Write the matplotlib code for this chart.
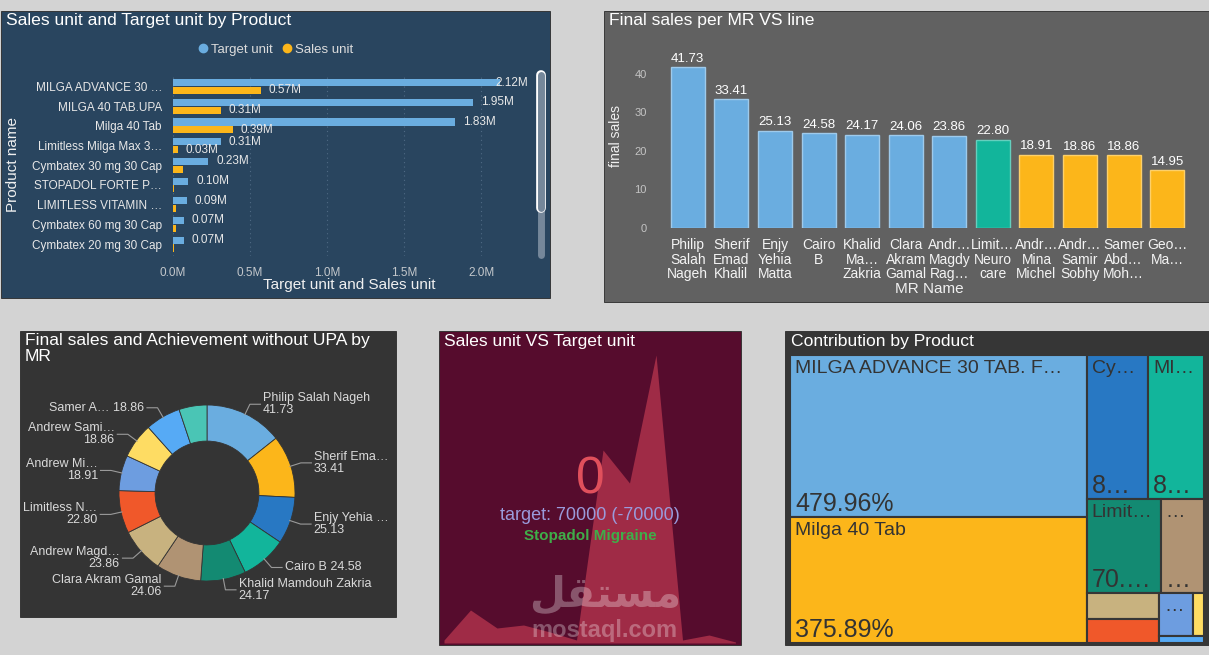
import numpy as np
import matplotlib.pyplot as plt
from matplotlib.patches import Rectangle
from matplotlib.lines import Line2D
from matplotlib.ticker import FuncFormatter
from matplotlib.colors import to_rgb

plt.rcParams['font.family'] = ['Liberation Sans', 'DejaVu Sans']

# ---- data ----
products = ['MILGA ADVANCE 30 …', 'MILGA 40 TAB.UPA', 'Milga 40 Tab', 'Limitless Milga Max 3…',
            'Cymbatex 30 mg 30 Cap', 'STOPADOL FORTE P…', 'LIMITLESS VITAMIN …',
            'Cymbatex 60 mg 30 Cap', 'Cymbatex 20 mg 30 Cap']
target_units = [2.12e6, 1.95e6, 1.83e6, 0.31e6, 0.23e6, 0.10e6, 0.09e6, 0.07e6, 0.07e6]
sales_units = [0.57e6, 0.31e6, 0.39e6, 0.03e6, 0.063e6, 0.005e6, 0.022e6, 0.022e6, 0.005e6]

mr_ticks = ['Philip\nSalah\nNageh', 'Sherif\nEmad\nKhalil', 'Enjy\nYehia\nMatta', 'Cairo\nB',
            'Khalid\nMa…\nZakria', 'Clara\nAkram\nGamal', 'Andr…\nMagdy\nRag…', 'Limit…\nNeuro\ncare',
            'Andr…\nMina\nMichel', 'Andr…\nSamir\nSobhy', 'Samer\nAbd…\nMoh…', 'Geo…\nMa…']
mr_donut = ['Philip Salah Nageh', 'Sherif Ema…', 'Enjy Yehia …', 'Cairo B', 'Khalid Mamdouh Zakria',
            'Clara Akram Gamal', 'Andrew Magd…', 'Limitless N…', 'Andrew Mi…', 'Andrew Sami…',
            'Samer A…', None]
final_sales = [41.73, 33.41, 25.13, 24.58, 24.17, 24.06, 23.86, 22.80, 18.91, 18.86, 18.86, 14.95]
mr_line = ['Milga'] * 7 + ['Limitless'] + ['Cymbatex'] * 4

trend = [3, 33, 15, 18, 11, 3, 193, 160, 288, 3, 8, 1]

tm_names = ['MILGA ADVANCE 30 TAB. FORTE', 'Milga 40 Tab', 'Cymbatex 30 mg 30 Cap', 'MILGA 40 TAB.UPA',
            'Limitless Milga Max 30', 'STOPADOL FORTE P…', 'LIMITLESS VITAMIN …', 'Cymbatex 60 mg 30 Cap',
            'Cymbatex 20 mg 30 Cap', 'Stopadol Migraine', 'Limitless Neuro']
tm_values = [479.96, 375.89, 88.4, 80.6, 70.3, 41.2, 19.0, 17.3, 14.1, 4.9, 3.2]

palette = ['#6aade0', '#fcb61a', '#2878c3', '#12b59b', '#138a72', '#b09373', '#c8b27f',
           '#f0582a', '#6d9de0', '#fedc63', '#56aaf5', '#4ac5b5']
BLUE, AMBER = palette[0], palette[1]
line_colors = {'Milga': BLUE, 'Limitless': '#12b59b', 'Cymbatex': AMBER}
TITLE = 12.6

W, H = 1209, 655
fig = plt.figure(figsize=(W / 100, H / 100), dpi=100, facecolor='#d3d3d3')


def fbox(x0, y0, x1, y1):
    return [x0 / W, 1 - y1 / H, (x1 - x0) / W, (y1 - y0) / H]


def panel(x0, y0, x1, y1, color):
    fig.add_artist(Rectangle((x0 / W, 1 - y1 / H), (x1 - x0) / W, (y1 - y0) / H,
                             transform=fig.transFigure, facecolor=color, edgecolor='#2a2a2a',
                             lw=0.6, zorder=-1))


def ftext(x, y, s, **kw):
    return fig.text(x / W, 1 - y / H, s, **kw)


def lighten(c, f=0.35):
    r = np.array(to_rgb(c))
    return tuple(r + (1 - r) * f)


panel(1, 11, 550, 298, '#29455f')
panel(604, 11, 1210, 302, '#616161')
panel(20, 331, 396, 617, '#343434')
panel(439, 331, 741, 645, '#560c2d')
panel(785, 331, 1210, 645, '#363636')

# ---- panel 1: horizontal bars ----
ax1 = fig.add_axes(fbox(173, 74.7, 535, 255.9))
ax1.set_facecolor('none')
y = np.arange(len(products))
ax1.barh(y - 0.2, target_units, height=0.36, color=BLUE)
ax1.barh(y + 0.2, sales_units, height=0.36, color=AMBER)
xmax = 2.35e6
ax1.set_xlim(0, xmax)
ax1.set_ylim(len(products) - 0.4, -0.6)
ax1.set_yticks(y)
ax1.set_yticklabels(products)
ax1.set_xticks([0, 0.5e6, 1e6, 1.5e6, 2e6])
ax1.xaxis.set_major_formatter(FuncFormatter(lambda v, p: f'{v / 1e6:.1f}M'))
ax1.xaxis.grid(True, color='#4f6a84', linestyle=(0, (1, 3)), lw=0.8)
ax1.set_axisbelow(True)
for s in ax1.spines.values():
    s.set_visible(False)
ax1.tick_params(axis='y', length=0, pad=8, labelsize=8.5, labelcolor='#e8e8e8')
ax1.tick_params(axis='x', length=0, pad=8, labelsize=8.5, labelcolor='#c4c8cc')
lw_m = 0.26e6
for i, (t, s) in enumerate(zip(target_units, sales_units)):
    ax1.text(min(t + 0.05e6, xmax - lw_m), i - 0.2, f'{t / 1e6:.2f}M', va='center',
             fontsize=8.5, color='#e8e8e8')
    if s + 0.22e6 < t:
        ax1.text(s + 0.05e6, i + 0.2, f'{s / 1e6:.2f}M', va='center', fontsize=8.5, color='#e8e8e8')
ftext(6, 21, 'Sales unit and Target unit by Product', fontsize=TITLE, color='white', va='center')
ftext(13, 165, 'Product name', rotation=90, fontsize=11, color='#f0f0f0', va='center', ha='center')
ftext(349, 285, 'Target unit and Sales unit', fontsize=11, color='#f0f0f0', va='center', ha='center')
handles = [Line2D([], [], marker='o', ls='', color=BLUE, markersize=6),
           Line2D([], [], marker='o', ls='', color=AMBER, markersize=6)]
fig.legend(handles, ['Target unit', 'Sales unit'], loc='center', bbox_to_anchor=(275 / W, 1 - 50 / H),
           ncol=2, frameon=False, handletextpad=0.1, columnspacing=0.6, fontsize=9.5,
           labelcolor='#dcdcdc', handlelength=1)
fig.add_artist(Line2D([541 / W] * 2, [1 - 76 / H, 1 - 255 / H], lw=5, color='#75879a',
                      solid_capstyle='round', transform=fig.transFigure))
fig.add_artist(Line2D([541 / W] * 2, [1 - 75 / H, 1 - 208 / H], lw=7, color='white',
                      solid_capstyle='round', transform=fig.transFigure))
fig.add_artist(Line2D([541 / W] * 2, [1 - 75 / H, 1 - 208 / H], lw=5, color='#75879a',
                      solid_capstyle='round', transform=fig.transFigure))

# ---- panel 2: columns ----
ax2 = fig.add_axes(fbox(666, 54.7, 1189, 228))
ax2.set_facecolor('none')
x = np.arange(len(final_sales))
cols = [line_colors[l] for l in mr_line]
ax2.bar(x, final_sales, width=0.78, color=cols, edgecolor=[lighten(c) for c in cols], lw=1)
ax2.set_xlim(-0.5, len(x) - 0.5)
ax2.set_ylim(0, 45)
ax2.set_yticks([0, 10, 20, 30, 40])
ax2.set_xticks(x)
ax2.set_xticklabels(mr_ticks, linespacing=1.08)
for s in ax2.spines.values():
    s.set_visible(False)
ax2.tick_params(axis='y', length=0, pad=14, labelsize=8, labelcolor='#c4c4c4')
ax2.tick_params(axis='x', length=0, pad=7, labelsize=10, labelcolor='#f4f4f4')
for i, v in enumerate(final_sales):
    ax2.annotate(f'{v:.2f}', (i, v), xytext=(0, 2), textcoords='offset points', ha='center',
                 va='bottom', fontsize=9.5, color='white')
ftext(609, 21, 'Final sales per MR VS line', fontsize=TITLE, color='white', va='center')
ftext(929, 289, 'MR Name', fontsize=11, color='#f0f0f0', va='center', ha='center')
ftext(616, 136, 'final sales', rotation=90, fontsize=10, color='#f0f0f0', va='center', ha='center')

# ---- panel 3: donut ----
ax3 = fig.add_axes(fbox(207 - 140.8, 493 - 140.8, 207 + 140.8, 493 + 140.8))
wedges, _ = ax3.pie(final_sales, radius=1, startangle=90, counterclock=False, colors=palette,
                    wedgeprops=dict(width=0.41, edgecolor='#343434', lw=0.6))
ax3.set_xlim(-1.6, 1.6)
ax3.set_ylim(-1.6, 1.6)
ax3.axis('off')
total = sum(final_sales)
cum = 0
for name, v in zip(mr_donut, final_sales):
    mid = np.radians((cum + v / 2) / total * 360)
    cum += v
    if name is None:
        continue
    sx, cy = np.sin(mid), np.cos(mid)
    ex, ey = 1.12 * sx, 1.12 * cy
    side = 1 if sx >= 0 else -1
    hx = ex + side * 0.12
    ax3.plot([sx * 0.99, ex, hx], [cy * 0.99, ey, ey], color='#9a9a9a', lw=0.8)
    label = f'{name} {v:.2f}' if len(name) + 6 <= 14 else f'{name}\n{v:.2f}'
    ax3.text(hx + side * 0.03, ey, label, ha='left' if side > 0 else 'right', va='center',
             fontsize=9, color='#dadada', linespacing=1.0)
ftext(25, 333, 'Final sales and Achievement without UPA by\nMR', fontsize=TITLE, color='white',
      va='top', linespacing=1.05)

# ---- panel 4: KPI card ----
ax4 = fig.add_axes(fbox(444, 343, 735.5, 643))
ax4.fill_between(np.arange(len(trend)), trend, color='#9f2b46', lw=0)
ax4.set_xlim(0, len(trend) - 1)
ax4.set_ylim(0, 300)
ax4.axis('off')
ftext(444, 341, 'Sales unit VS Target unit', fontsize=TITLE, color='white', va='center')
ftext(590, 480, '0', fontsize=37, color='#e0505c', ha='center', va='center')
ftext(590, 515, 'target: 70000 (-70000)', fontsize=13, color='#9a9bdc', ha='center', va='center')
ftext(590, 536, 'Stopadol Migraine', fontsize=11, fontweight='bold', color='#3fae49',
      ha='center', va='center')

# ---- panel 5: treemap ----
ax5 = fig.add_axes(fbox(790, 355, 1204, 643))
TW, TH = 414, 288
ax5.set_xlim(0, TW)
ax5.set_ylim(TH, 0)
ax5.axis('off')


def pair_layout(vals, x0, y0, w, h):
    rects = []
    scale = w * h / sum(vals)
    for i in range(0, len(vals), 2):
        grp = vals[i:i + 2]
        area = sum(grp) * scale
        if w >= h:
            cw = area / h
            yy = y0
            for v in grp:
                ch = v * scale / cw
                rects.append((x0, yy, cw, ch))
                yy += ch
            x0 += cw
            w -= cw
        else:
            rh = area / w
            xx = x0
            for v in grp:
                cw = v * scale / rh
                rects.append((xx, y0, cw, rh))
                xx += cw
            y0 += rh
            h -= rh
    return rects


renderer = fig.canvas.get_renderer()


def fit_text(xp, yp, s, maxw, **kw):
    t = ax5.text(xp, yp, s, **kw)
    if t.get_window_extent(renderer).width <= maxw:
        return
    for n in range(len(s) - 1, -1, -1):
        t.set_text(s[:n].rstrip() + '…')
        if t.get_window_extent(renderer).width <= maxw:
            return
    t.set_text('')


for (rx, ry, rw, rh), name, v, c in zip(pair_layout(tm_values, 0, 0, TW, TH), tm_names, tm_values, palette):
    ax5.add_patch(Rectangle((rx, ry), rw, rh, facecolor=c, edgecolor='#363636', lw=1.5))
    if rh >= 30:
        fit_text(rx + 5, ry + 5, name, min(rw - 12, 275), fontsize=14, color='#333333', va='top')
    if rh >= 60:
        fit_text(rx + 5, ry + rh - 6, f'{v:.2f}%', rw - 12, fontsize=18, color='#333333', va='baseline')
ftext(791, 341, 'Contribution by Product', fontsize=TITLE, color='white', va='center')

# ---- watermark ----
ftext(605, 594, '\uFEDE\uFED8\uFE98\uFEB4\uFEE3', fontsize=30, fontweight='bold', family=['DejaVu Sans'],
      color='white', alpha=0.3, ha='center', va='center')
ftext(604, 631, 'mostaql.com', fontsize=17, fontweight='bold', color='white', alpha=0.3,
      ha='center', va='center')

fig.savefig('out.png', dpi=100, facecolor=fig.get_facecolor())
